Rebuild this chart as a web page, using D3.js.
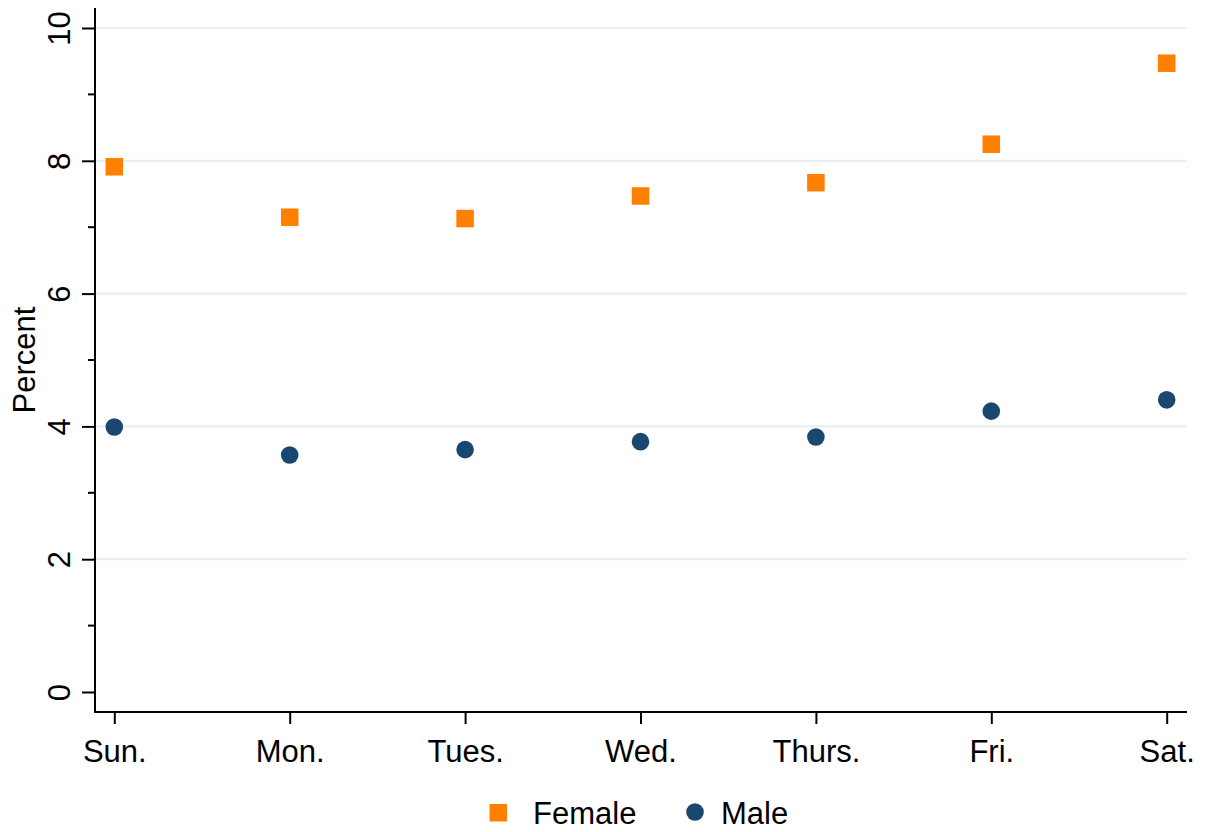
<!DOCTYPE html>
<html>
<head>
<meta charset="utf-8">
<script src="https://cdn.jsdelivr.net/npm/d3@7"></script>
<style>
  html, body { margin: 0; padding: 0; background: #fff; }
  text { font-family: "Liberation Sans", Arial, sans-serif; fill: #000; }
</style>
</head>
<body>
<svg id="chart" width="1208" height="832"></svg>
<script>
const days = ["Sun.", "Mon.", "Tues.", "Wed.", "Thurs.", "Fri.", "Sat."];
const female = [7.91, 7.15, 7.13, 7.47, 7.67, 8.25, 9.47];
const male = [3.99, 3.57, 3.65, 3.77, 3.84, 4.23, 4.40];
const majorTicks = [0, 2, 4, 6, 8, 10];
const minorTicks = [1, 3, 5, 7, 9];
const seriesNames = ["Female", "Male"];

const orange = "#ff8000";
const navy = "#1a476f";
const gridColor = "#e6eff1";
const fs = 31;

const svg = d3.select("#chart");
const axisX0 = 95, axisX1 = 1187, axisY0 = 712, axisTop = 8;

const x = d3.scalePoint().domain(days).range([114.3, 1166.7]);
const y = d3.scaleLinear().domain([0, 10]).range([692, 28]);

// gridlines
svg.append("g").selectAll("line").data(majorTicks.filter(d => d > 0)).join("line")
  .attr("x1", axisX0).attr("x2", axisX1)
  .attr("y1", d => y(d)).attr("y2", d => y(d))
  .attr("stroke", gridColor).attr("stroke-width", 2.2);

// y axis
const yAxis = svg.append("g").attr("transform", `translate(${axisX0},0)`)
  .call(d3.axisLeft(y).tickValues(majorTicks).tickSize(13).tickPadding(0).tickFormat(d3.format("d")));
yAxis.select(".domain").remove();
yAxis.selectAll(".tick line").attr("stroke", "#000").attr("stroke-width", 2);
yAxis.selectAll(".tick text")
  .attr("font-size", fs)
  .attr("x", 0).attr("dy", 0)
  .attr("text-anchor", "middle")
  .attr("transform", "translate(-25,0) rotate(-90)");
// minor ticks
svg.append("g").selectAll("line").data(minorTicks).join("line")
  .attr("x1", axisX0 - 7).attr("x2", axisX0)
  .attr("y1", d => y(d)).attr("y2", d => y(d))
  .attr("stroke", "#000").attr("stroke-width", 2);
svg.append("line").attr("x1", axisX0).attr("x2", axisX0)
  .attr("y1", axisTop).attr("y2", axisY0 + 1)
  .attr("stroke", "#000").attr("stroke-width", 2);

// x axis
const xAxis = svg.append("g").attr("transform", `translate(0,${axisY0})`)
  .call(d3.axisBottom(x).tickSize(12).tickPadding(0));
xAxis.select(".domain").remove();
xAxis.selectAll(".tick line").attr("stroke", "#000").attr("stroke-width", 2);
xAxis.selectAll(".tick text").attr("font-size", fs).attr("dy", 0).attr("y", 50);
svg.append("line").attr("x1", axisX0 - 1).attr("x2", axisX1)
  .attr("y1", axisY0).attr("y2", axisY0)
  .attr("stroke", "#000").attr("stroke-width", 2);

// y title
svg.append("text").attr("font-size", fs).attr("text-anchor", "middle")
  .attr("transform", `translate(35,${y(5)}) rotate(-90)`)
  .text("Percent");

// markers
const sq = 17.5;
svg.append("g").selectAll("rect").data(female).join("rect")
  .attr("x", (d, i) => x(days[i]) - sq / 2)
  .attr("y", d => y(d) - sq / 2)
  .attr("width", sq).attr("height", sq)
  .attr("fill", orange);
svg.append("g").selectAll("circle").data(male).join("circle")
  .attr("cx", (d, i) => x(days[i]))
  .attr("cy", d => y(d))
  .attr("r", 8.8)
  .attr("fill", navy);

// legend
const leg = svg.append("g");
leg.append("rect").attr("x", 489.5).attr("y", 804).attr("width", sq).attr("height", sq).attr("fill", orange);
leg.append("text").attr("x", 533).attr("y", 824).attr("font-size", fs).text(seriesNames[0]);
leg.append("circle").attr("cx", 695).attr("cy", 812).attr("r", 8.8).attr("fill", navy);
leg.append("text").attr("x", 721).attr("y", 824).attr("font-size", fs).text(seriesNames[1]);
</script>
</body>
</html>
